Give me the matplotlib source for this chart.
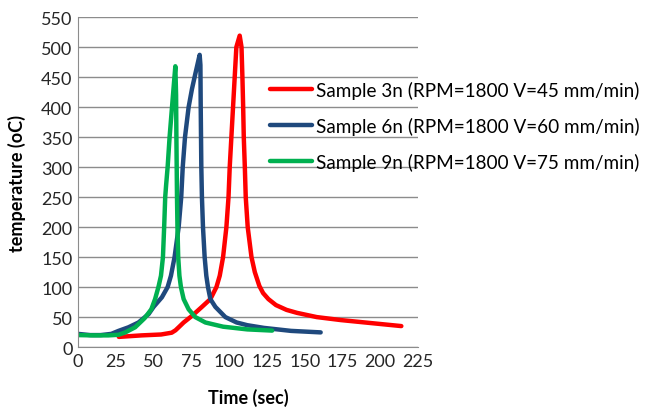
import matplotlib
matplotlib.use("Agg")
import matplotlib.pyplot as plt

plt.rcParams['font.family'] = ['Lato', 'DejaVu Sans']

# Sample 3n
t3 = [27, 42, 55, 62, 64.5, 66.6, 69.9, 75.4, 82, 87.6, 91.6, 93.8, 96, 98.2, 99.6, 100.4, 101.5, 102.6, 103.7, 104.8, 107,
      108.2, 108.8, 109.3, 109.7, 110.4, 111, 112.3, 114.8, 117, 120, 122.5, 126, 131, 138, 145, 158, 174, 194, 214]
T3 = [17, 19.5, 21, 24, 28, 33, 41, 52, 67, 80, 100, 119, 150, 200, 250, 300, 350, 400, 450, 500, 519,
      500, 450, 400, 350, 300, 250, 200, 150, 125, 102, 90, 80, 70, 62, 57, 50, 45, 40, 35]
# Sample 6n
t6 = [0, 8, 15, 22, 26.8, 33.4, 40, 46.7, 50, 55.5, 59.3, 61.5, 63.9, 66.6, 68.3, 69.3, 70.8, 73.2, 75.4, 77.6, 80.5,
      81, 81.2, 81.4, 81.6, 82, 82.7, 83.8, 84.9, 86, 87.6, 90.9, 97.5, 105, 112, 123, 141, 160.6]
T6 = [22, 20, 20, 22, 27, 33, 41, 55, 67, 83, 100, 119, 150, 200, 250, 300, 350, 400, 430, 455, 487,
      470, 400, 350, 300, 250, 200, 150, 119, 100, 80, 67, 50, 41, 36.5, 32, 27, 24.5]
# Sample 9n
t9 = [0, 10, 20, 26.8, 31.2, 37.8, 44, 48.5, 51, 53.3, 54.9, 56.2, 57, 57.7, 58.3, 59.3, 60.6, 62.2, 64.4,
      64.9, 65.1, 65.3, 65.5, 65.8, 66.3, 67.1, 68.1, 69.9, 73.2, 77.6, 84.3, 96, 112, 128.5]
T9 = [20, 19.5, 19.5, 20.5, 24.4, 33, 48, 63, 80, 101, 119, 150, 200, 250, 270, 300, 350, 400, 468,
      420, 350, 300, 250, 200, 150, 119, 100, 80, 63, 50, 41, 34, 29.5, 27.5]

labels = ["Sample 3n (RPM=1800 V=45 mm/min)",
          "Sample 6n (RPM=1800 V=60 mm/min)",
          "Sample 9n (RPM=1800 V=75 mm/min)"]
colors = ["#FF0000", "#1F497D", "#00B050"]

fig = plt.figure(figsize=(6.45, 4.10), dpi=100)
ax = fig.add_axes([0.121, 0.151, 0.527, 0.805])

for t, T, c, l in zip([t3, t6, t9], [T3, T6, T9], colors, labels):
    ax.plot(t, T, color=c, lw=3.2, label=l, solid_capstyle='round', solid_joinstyle='round')

ax.set_xlim(0, 225)
ax.set_ylim(0, 550)
ax.set_xticks(range(0, 226, 25))
ax.set_yticks(range(0, 551, 50))
ax.yaxis.grid(True, color='#8C8C8C', lw=1)
ax.set_axisbelow(True)
for s in ['top', 'right']:
    ax.spines[s].set_visible(False)
for s in ['left', 'bottom']:
    ax.spines[s].set_color('#8C8C8C')
ax.tick_params(length=0, labelsize=13, colors='#262626', pad=4)
ax.set_xlabel("Time (sec)", fontsize=13, fontweight='bold', labelpad=14)
ax.set_ylabel("temperature (oC)", fontsize=13, fontweight='bold', labelpad=11)

fig.legend(loc='upper left', bbox_to_anchor=(0.419, 0.80), frameon=False,
           fontsize=13.6, handlelength=2.2, handletextpad=0.2, labelspacing=0.94,
           borderaxespad=0, borderpad=0)

fig.savefig("out.png", dpi=100)
